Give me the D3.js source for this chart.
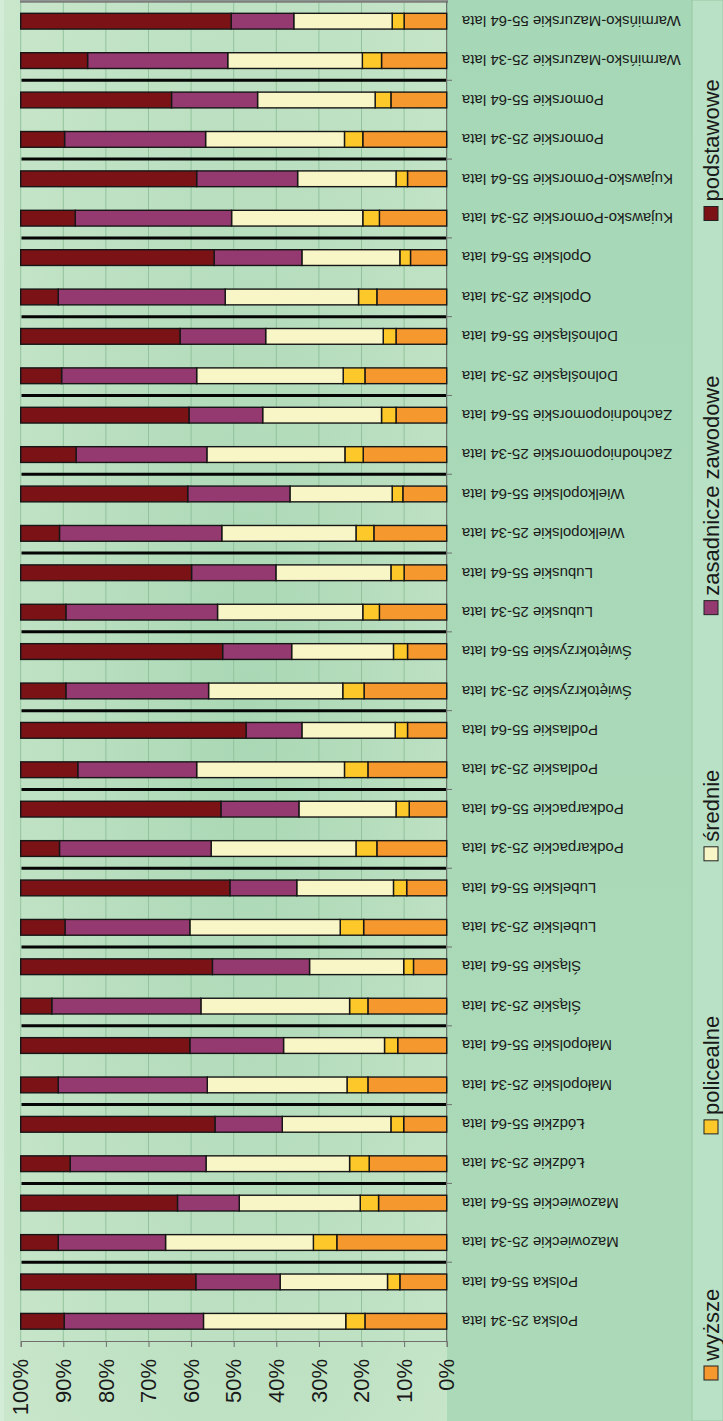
<!DOCTYPE html>
<html>
<head>
<meta charset="utf-8">
<script src="https://cdn.jsdelivr.net/npm/d3@7"></script>
<style>
  body { margin: 0; background: #a8d8b6; }
  svg { display: block; font-family: "Liberation Sans", Arial, sans-serif; }
</style>
</head>
<body>
<div id="chart"></div>
<script>
// categories from bottom to top
const categories = [
    "Polska 25-34 lata", "Polska 55-64 lata",
    "Mazowieckie 25-34 lata", "Mazowieckie 55-64 lata",
    "Łódzkie 25-34 lata", "Łódzkie 55-64 lata",
    "Małopolskie 25-34 lata", "Małopolskie 55-64 lata",
    "Śląskie 25-34 lata", "Śląskie 55-64 lata",
    "Lubelskie 25-34 lata", "Lubelskie 55-64 lata",
    "Podkarpackie 25-34 lata", "Podkarpackie 55-64 lata",
    "Podlaskie 25-34 lata", "Podlaskie 55-64 lata",
    "Świętokrzyskie 25-34 lata", "Świętokrzyskie 55-64 lata",
    "Lubuskie 25-34 lata", "Lubuskie 55-64 lata",
    "Wielkopolskie 25-34 lata", "Wielkopolskie 55-64 lata",
    "Zachodniopomorskie 25-34 lata", "Zachodniopomorskie 55-64 lata",
    "Dolnośląskie 25-34 lata", "Dolnośląskie 55-64 lata",
    "Opolskie 25-34 lata", "Opolskie 55-64 lata",
    "Kujawsko-Pomorskie 25-34 lata", "Kujawsko-Pomorskie 55-64 lata",
    "Pomorskie 25-34 lata", "Pomorskie 55-64 lata",
    "Warmińsko-Mazurskie 25-34 lata", "Warmińsko-Mazurskie 55-64 lata"
]

const wyzsze = [19.2, 11.0, 25.8, 16.0, 18.2, 10.1, 18.5, 11.5, 18.5, 7.8, 19.5, 9.4, 16.4, 8.8, 18.5, 9.2, 19.4, 9.2,
    15.8, 10.0, 17.1, 10.3, 19.6, 11.9, 19.2, 11.9, 16.4, 8.5, 15.8, 9.2, 19.7, 13.1, 15.3, 10.0]
const policealne = [4.5, 2.9, 5.5, 4.3, 4.6, 3.0, 4.9, 3.1, 4.3, 2.3, 5.5, 3.1, 4.9, 3.1, 5.5, 2.9, 5.0, 3.3,
    3.9, 3.1, 4.2, 2.5, 4.3, 3.4, 5.1, 3.0, 4.3, 2.5, 3.9, 2.7, 4.3, 3.7, 4.5, 2.8]
const srednie = [33.4, 25.2, 34.7, 28.4, 33.7, 25.5, 32.8, 23.7, 34.9, 22.1, 35.3, 22.7, 34.0, 22.8, 34.7, 21.9, 31.5, 23.9,
    34.1, 27.0, 31.5, 24.0, 32.4, 27.9, 34.4, 27.6, 31.3, 23.0, 30.8, 23.1, 32.6, 27.6, 31.6, 23.1]
const zasadnicze = [32.7, 19.8, 25.2, 14.5, 31.9, 15.8, 35.0, 22.0, 35.0, 22.8, 29.3, 15.7, 35.6, 18.3, 27.9, 13.1, 33.5, 16.2,
    35.6, 19.8, 38.1, 24.0, 30.7, 17.3, 31.7, 20.1, 39.2, 20.6, 36.7, 23.7, 33.1, 20.2, 32.9, 14.7]
const podstawowe = [10.2, 41.1, 8.8, 36.8, 11.6, 45.6, 8.8, 39.7, 7.3, 45.0, 10.4, 49.1, 9.1, 47.0, 13.4, 52.9, 10.6, 47.4,
    10.6, 40.1, 9.1, 39.2, 13.0, 39.5, 9.6, 37.4, 8.8, 45.4, 12.8, 41.3, 10.3, 35.4, 15.7, 49.4]

// stacking order from 0% upward
const seriesKeys = ["wyższe", "policealne", "średnie", "zasadnicze zawodowe", "podstawowe"]
const seriesColors = ["#f5982e", "#fdc82a", "#f8f6c6", "#953a70", "#7b1316"]
const tickValues = [0, 10, 20, 30, 40, 50, 60, 70, 80, 90, 100]

var width = 723
var height = 1421

var data = categories.map((c, i) => ({
    name: c,
    "wyższe": wyzsze[i],
    "policealne": policealne[i],
    "średnie": srednie[i],
    "zasadnicze zawodowe": zasadnicze[i],
    "podstawowe": podstawowe[i]
}))

const svg = d3.select("#chart")
    .append("svg")
    .attr("width", width)
    .attr("height", height)

const defs = svg.append("defs")
const grad = defs.append("radialGradient")
    .attr("id", "plotBg")
    .attr("cx", "55%").attr("cy", "50%").attr("r", "75%")
grad.append("stop").attr("offset", "0%").attr("stop-color", "#a9d7b4")
grad.append("stop").attr("offset", "100%").attr("stop-color", "#cae7cb")

const outerGrad = defs.append("linearGradient")
    .attr("id", "outerBg")
    .attr("x1", "0").attr("y1", "0").attr("x2", "0").attr("y2", "1")
outerGrad.append("stop").attr("offset", "0%").attr("stop-color", "#a6d8b7")
outerGrad.append("stop").attr("offset", "100%").attr("stop-color", "#acdab8")

// backgrounds
svg.append("rect").attr("width", width).attr("height", height).attr("fill", "url(#outerBg)")
svg.append("rect").attr("x", 0).attr("y", 0).attr("width", 4).attr("height", height).attr("fill", "#d2ecd7")
svg.append("rect").attr("x", 4).attr("y", 0).attr("width", 443).attr("height", height).attr("fill", "url(#plotBg)")
svg.append("rect").attr("x", 692).attr("y", 0).attr("width", 31).attr("height", height)
    .attr("fill", "#b9e1c5").attr("stroke", "#97c8a4").attr("stroke-width", 1)

const x = d3.scaleLinear().domain([0, 100]).range([446.7, 20.7])
const y = d3.scaleBand()
    .domain(categories)
    .range([1341, 1.5])
    .paddingInner(0.6)
    .paddingOuter(0.3)

// vertical gridlines
svg.append("g")
    .selectAll("line")
    .data(tickValues)
    .enter()
    .append("line")
    .attr("x1", d => x(d)).attr("x2", d => x(d))
    .attr("y1", 1.5).attr("y2", 1341)
    .attr("stroke", "#92c39d")
    .attr("stroke-width", 1)

// top border
svg.append("line")
    .attr("x1", 20).attr("x2", 448).attr("y1", 1.5).attr("y2", 1.5)
    .attr("stroke", "#7d7d7d").attr("stroke-width", 2.5)

// value axis at bottom
const xAxis = d3.axisBottom(x).tickValues(tickValues).tickSize(6).tickFormat("")
const gx = svg.append("g").attr("transform", "translate(0,1341)").call(xAxis)
gx.select(".domain").attr("stroke", "#6f6f6f")
gx.selectAll(".tick line").attr("stroke", "#6f6f6f")

svg.append("g")
    .selectAll("text")
    .data(tickValues)
    .enter()
    .append("text")
    .attr("transform", d => `translate(${x(d)},1359) rotate(-90)`)
    .attr("text-anchor", "end")
    .attr("dy", "0.35em")
    .style("font-size", "22px")
    .attr("fill", "#1a1a1a")
    .text(d => d + "%")

// category axis on the right
svg.append("line")
    .attr("x1", 446.7).attr("x2", 446.7).attr("y1", 1.5).attr("y2", 1341)
    .attr("stroke", "#5f5f5f").attr("stroke-width", 1)

var centers = categories.map(c => y(c) + y.bandwidth() / 2)
var groupBounds = []
for (let i = 2; i < categories.length; i += 2) {
    groupBounds.push((centers[i - 1] + centers[i]) / 2)
}

svg.append("g")
    .selectAll("line")
    .data(groupBounds)
    .enter()
    .append("line")
    .attr("x1", 446.7).attr("x2", 452)
    .attr("y1", d => d).attr("y2", d => d)
    .attr("stroke", "#6f6f6f")

// bars
const stacked = d3.stack().keys(seriesKeys)(data)

svg.append("g")
    .selectAll("g")
    .data(stacked)
    .enter()
    .append("g")
    .attr("fill", (d, i) => seriesColors[i])
    .selectAll("rect")
    .data(d => d)
    .enter()
    .append("rect")
    .attr("x", d => x(d[1]))
    .attr("width", d => x(d[0]) - x(d[1]))
    .attr("y", d => y(d.data.name))
    .attr("height", y.bandwidth())
    .attr("stroke", "#161616")
    .attr("stroke-width", 1.4)

// thick separators between regions
svg.append("g")
    .selectAll("line")
    .data(groupBounds)
    .enter()
    .append("line")
    .attr("x1", 21.5).attr("x2", 446)
    .attr("y1", d => d).attr("y2", d => d)
    .attr("stroke", "#050505")
    .attr("stroke-width", 3)

// category labels, upside down
svg.append("g")
    .selectAll("text")
    .data(categories)
    .enter()
    .append("text")
    .attr("transform", d => `translate(462,${y(d) + y.bandwidth() / 2}) rotate(180)`)
    .attr("text-anchor", "end")
    .attr("dy", "0.35em")
    .style("font-size", "15px")
    .attr("fill", "#1a1a1a")
    .text(d => d)

// legend, read bottom to top
const legend = svg.append("g")
var cur = 1373
var legendGap = 155
seriesKeys.forEach((k, i) => {
    legend.append("rect")
        .attr("x", 704).attr("y", cur - 7)
        .attr("width", 14).attr("height", 14)
        .attr("fill", seriesColors[i])
        .attr("stroke", "#222").attr("stroke-width", 1)
    var t = legend.append("text")
        .attr("transform", `translate(711,${cur - 12}) rotate(-90)`)
        .attr("dy", "0.35em")
        .style("font-size", "22px")
        .attr("fill", "#1a1a1a")
        .text(k)
    var w = t.node().getComputedTextLength()
    cur = cur - 12 - w - legendGap - 7
})
</script>
</body>
</html>
